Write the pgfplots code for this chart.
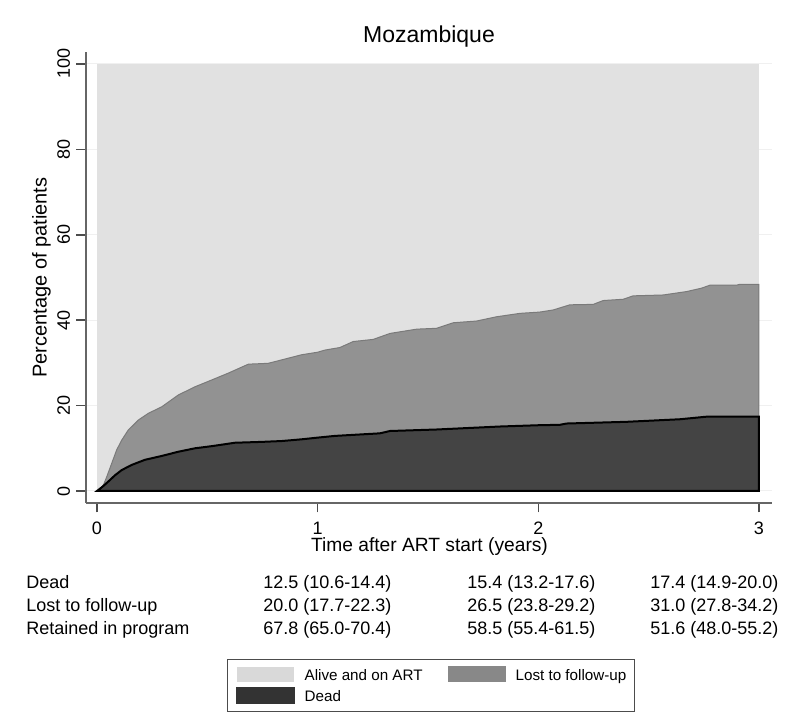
\documentclass[border=0pt]{standalone}
\usepackage{fontspec}
\setmainfont{Liberation Sans}
\usepackage{pgfplots}
\pgfplotsset{compat=1.18}

\definecolor{alivecol}{HTML}{E1E1E1}
\definecolor{lostcol}{HTML}{929292}
\definecolor{lostline}{HTML}{7A7A7A}
\definecolor{deadcol}{HTML}{444444}
\definecolor{alivekey}{HTML}{D9D9D9}
\definecolor{lostkey}{HTML}{888888}
\definecolor{deadkey}{HTML}{333333}

\newcommand{\tabfont}{\fontsize{9}{10}\selectfont}

\begin{document}
\begin{tikzpicture}
\useasboundingbox (0,0) rectangle (400pt,359pt);
\begin{axis}[
  at={(43pt,107.5pt)}, anchor=south west,
  scale only axis, width=343pt, height=225.5pt,
  xmin=-0.0498, xmax=3.059, ymin=-2.81, ymax=102.8,
  axis x line*=bottom, axis y line*=left,
  axis line style={-, draw=black!60, line width=0.75pt},
  tick style={draw=black!70, line width=0.75pt},
  tick align=outside, major tick length=4.75pt,
  xtick={0,1,2,3}, ytick={0,20,...,100},
  ymajorgrids, major grid style={draw=black!6, line width=0.5pt},
  /pgf/number format/assume math mode=true,
  tick label style={font=\fontsize{9}{10}\selectfont},
  xticklabel style={anchor=base}, xticklabel shift=10.95pt,
  yticklabel style={rotate=90, anchor=base}, yticklabel shift=3.25pt,
  title={Mozambique},
  every axis title shift=0pt,
  title style={at={(0.5,1.0206)}, anchor=base, font=\fontsize{11.5}{13}\selectfont},
  xlabel={Time after ART start (years)},
  xlabel style={at={(0.5007,-0.108)}, anchor=base, font=\fontsize{9.6}{11}\selectfont},
  ylabel={Percentage of patients},
  ylabel style={at={(-0.0573,0.5)}, anchor=base, font=\fontsize{10}{12}\selectfont},
  legend columns=2,
  legend cell align=left,
  legend style={at={(0.5029,-0.3459)}, anchor=north, draw=black!70, line width=0.5pt,
    font=\fontsize{7.6}{9}\selectfont, inner xsep=4pt, inner ysep=3.5pt,
    row sep=2.5pt, column sep=5pt,
    nodes={inner sep=0pt, text height=6pt, text depth=0pt},
    /tikz/every even column/.append style={column sep=12.5pt}},
  clip=false,
]
% alive and on ART: everything up to 100 %
\addplot[fill=alivecol, draw=none,
  legend image code/.code={\fill[alivekey] (0pt,-3.75pt) rectangle (28.5pt,3.75pt);}]
  coordinates {(0,100) (3,100)} \closedcycle;
\addlegendentry{Alive and on ART}

% lost to follow-up + dead (cumulative)
\addplot[fill=lostcol, draw=lostline, line width=0.5pt,
  legend image code/.code={\fill[lostkey] (0pt,-3.75pt) rectangle (28.5pt,3.75pt);}]
  coordinates {
  (0,0) (0.015,0.5) (0.03,1.5) (0.044,3.3) (0.067,6.5) (0.089,9.6) (0.112,11.9)
  (0.142,14.3) (0.187,16.6) (0.233,18.2) (0.293,19.7) (0.369,22.5) (0.444,24.4)
  (0.52,26.0) (0.595,27.6) (0.686,29.7) (0.776,29.9) (0.837,30.7) (0.927,31.9)
  (1.0,32.5) (1.033,33.0) (1.101,33.6) (1.161,35.0) (1.252,35.5) (1.328,36.9)
  (1.449,37.9) (1.539,38.1) (1.615,39.4) (1.72,39.8) (1.811,40.8) (1.917,41.6)
  (2.007,41.9) (2.068,42.4) (2.143,43.6) (2.249,43.7) (2.294,44.6) (2.385,44.9)
  (2.43,45.7) (2.566,45.9) (2.672,46.7) (2.74,47.5) (2.778,48.2) (2.898,48.2)
  (2.913,48.4) (3.0,48.4)
  } \closedcycle;
\addlegendentry{Lost to follow-up}

% dead
\addplot[fill=deadcol, draw=black, line width=1pt,
  legend image code/.code={\fill[deadkey] (0pt,-3.75pt) rectangle (28.5pt,3.75pt);}]
  coordinates {
  (0,0) (0.025,1.0) (0.051,2.2) (0.082,3.7) (0.112,4.9) (0.157,6.1) (0.217,7.3)
  (0.293,8.2) (0.369,9.2) (0.444,10.0) (0.52,10.5) (0.625,11.3) (0.746,11.5)
  (0.837,11.7) (0.927,12.1) (1.0,12.5) (1.078,12.9) (1.282,13.5) (1.328,14.05)
  (1.539,14.4) (1.826,15.1) (2.0,15.4) (2.098,15.5) (2.128,15.8) (2.40,16.2)
  (2.642,16.8) (2.762,17.4) (3.0,17.4)
  } \closedcycle;
\addlegendentry{Dead}
\end{axis}

% table of estimates under the graph
\begin{scope}[every node/.style={anchor=base west, inner sep=0pt, font=\tabfont}]
\node at (13pt,64.85pt) {Dead};
\node at (13pt,53.15pt) {Lost to follow-up};
\node at (13pt,41.5pt) {Retained in program};
\node at (131.5pt,64.85pt) {12.5 (10.6-14.4)};
\node at (131.5pt,53.15pt) {20.0 (17.7-22.3)};
\node at (131.5pt,41.5pt) {67.8 (65.0-70.4)};
\node at (233.5pt,64.85pt) {15.4 (13.2-17.6)};
\node at (233.5pt,53.15pt) {26.5 (23.8-29.2)};
\node at (233.5pt,41.5pt) {58.5 (55.4-61.5)};
\node at (325pt,64.85pt) {17.4 (14.9-20.0)};
\node at (325pt,53.15pt) {31.0 (27.8-34.2)};
\node at (325pt,41.5pt) {51.6 (48.0-55.2)};
\end{scope}
\end{tikzpicture}
\end{document}
